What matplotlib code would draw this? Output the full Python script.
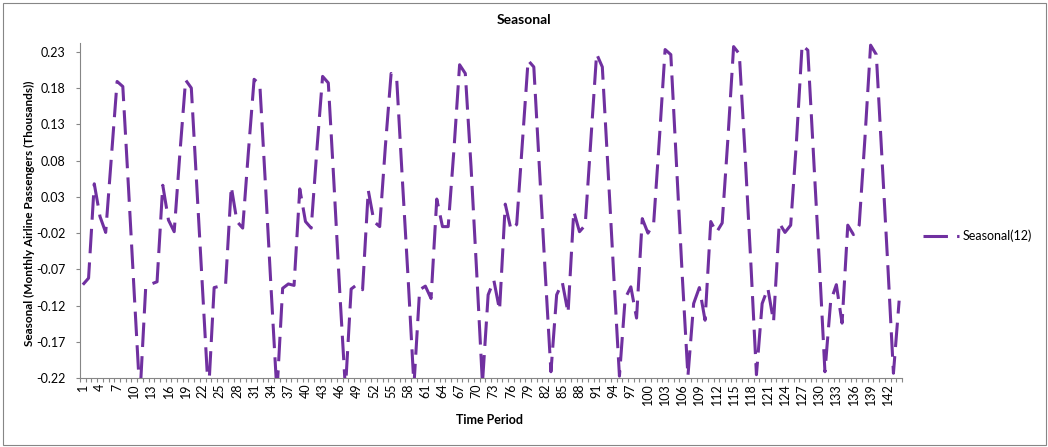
import matplotlib
matplotlib.use('Agg')
import matplotlib.pyplot as plt
from matplotlib.patches import Rectangle
import numpy as np

plt.rcParams['font.family'] = ['Lato', 'DejaVu Sans']

# Seasonal component, one list per 12-period cycle
cycle_01 = [-0.091, -0.082, 0.048, 0.003, -0.019, 0.085, 0.189, 0.182, 0.042, -0.103, -0.245, -0.096]
cycle_02 = [-0.090, -0.087, 0.046, -0.002, -0.018, 0.090, 0.191, 0.180, 0.040, -0.102, -0.243, -0.095]
cycle_03 = [-0.093, -0.091, 0.044, -0.004, -0.013, 0.092, 0.192, 0.185, 0.045, -0.100, -0.240, -0.096]
cycle_04 = [-0.090, -0.092, 0.041, -0.004, -0.013, 0.095, 0.196, 0.187, 0.047, -0.100, -0.235, -0.097]
cycle_05 = [-0.091, -0.098, 0.039, -0.004, -0.011, 0.100, 0.200, 0.190, 0.050, -0.085, -0.230, -0.098]
cycle_06 = [-0.093, -0.110, 0.027, -0.011, -0.011, 0.094, 0.212, 0.200, 0.072, -0.075, -0.227, -0.105]
cycle_07 = [-0.085, -0.126, 0.020, -0.015, -0.008, 0.106, 0.218, 0.209, 0.067, -0.075, -0.211, -0.105]
cycle_08 = [-0.088, -0.130, 0.010, -0.018, -0.009, 0.110, 0.227, 0.209, 0.068, -0.077, -0.217, -0.110]
cycle_09 = [-0.094, -0.137, 0.000, -0.020, -0.006, 0.110, 0.233, 0.226, 0.075, -0.078, -0.217, -0.117]
cycle_10 = [-0.095, -0.140, -0.004, -0.019, -0.006, 0.110, 0.237, 0.227, 0.090, -0.058, -0.215, -0.117]
cycle_11 = [-0.096, -0.142, -0.006, -0.019, -0.009, 0.105, 0.239, 0.232, 0.087, -0.058, -0.211, -0.114]
cycle_12 = [-0.091, -0.144, -0.009, -0.022, -0.009, 0.110, 0.239, 0.226, 0.082, -0.062, -0.213, -0.113]

seasonal = (cycle_01 + cycle_02 + cycle_03 + cycle_04 + cycle_05 + cycle_06 +
            cycle_07 + cycle_08 + cycle_09 + cycle_10 + cycle_11 + cycle_12)
periods = list(range(1, len(seasonal) + 1))

y_ticks = [-0.22, -0.17, -0.12, -0.07, -0.02, 0.03, 0.08, 0.13, 0.18, 0.23]
y_max = 0.242
x_tick_labels = list(range(1, 145, 3))

series_name = 'Seasonal(12)'
title = 'Seasonal'
x_title = 'Time Period'
y_title = 'Seasonal (Monthly Airline Passengers (Thousands))'

W, H = 1048, 447
fig = plt.figure(figsize=(W / 100, H / 100), dpi=100)
fig.patch.set_facecolor('white')

L, R, T, B = 80, 902, 43, 378.3
ax = fig.add_axes([L / W, 1 - B / H, (R - L) / W, (B - T) / H])

line, = ax.plot(periods, seasonal, color='#7030A0', lw=2.2, label=series_name,
                zorder=3, solid_capstyle='butt')
line.set_dashes([8, 3])

ax.set_xlim(0.5, len(seasonal) + 0.5)
ax.set_ylim(y_ticks[0], y_max)

axis_col = '#868686'
for s in ['top', 'right']:
    ax.spines[s].set_visible(False)
for s in ['left', 'bottom']:
    ax.spines[s].set_color(axis_col)
    ax.spines[s].set_linewidth(0.8)

ax.set_yticks(y_ticks)
ax.set_yticklabels([f'{v:.2f}' for v in y_ticks])
ax.tick_params(axis='y', length=3.2, width=0.8, color=axis_col, pad=7,
               labelsize=9, labelcolor='black')

ax.set_xticks(x_tick_labels)
ax.set_xticklabels([str(v) for v in x_tick_labels], rotation=90)
ax.set_xticks(np.arange(0.5, len(seasonal) + 1, 1), minor=True)
ax.tick_params(axis='x', which='major', length=0, pad=3.8, labelsize=9,
               labelcolor='black')
ax.tick_params(axis='x', which='minor', length=3.2, width=0.8, color=axis_col,
               direction='out')

fig.text(0.5, 1 - 20 / H, title, ha='center', va='center', fontsize=10,
         fontweight='bold')
fig.text(490 / W, 1 - 420 / H, x_title, ha='center', va='center', fontsize=9,
         fontweight='bold')
fig.text(29 / W, 1 - 213 / H, y_title, ha='center', va='center', rotation=90,
         fontsize=8.5, fontweight='bold')

leg = ax.legend(loc='center left', bbox_to_anchor=(923 / W, 1 - 236 / H),
                bbox_transform=fig.transFigure, frameon=False, fontsize=9,
                handlelength=2.9, handletextpad=0.25, borderpad=0,
                borderaxespad=0)

fig.patches.append(Rectangle((2.5 / W, 2.5 / H), 1043 / W, 442 / H,
                             transform=fig.transFigure, fill=False,
                             edgecolor=axis_col, lw=0.8))

fig.savefig('out.png', dpi=100)
